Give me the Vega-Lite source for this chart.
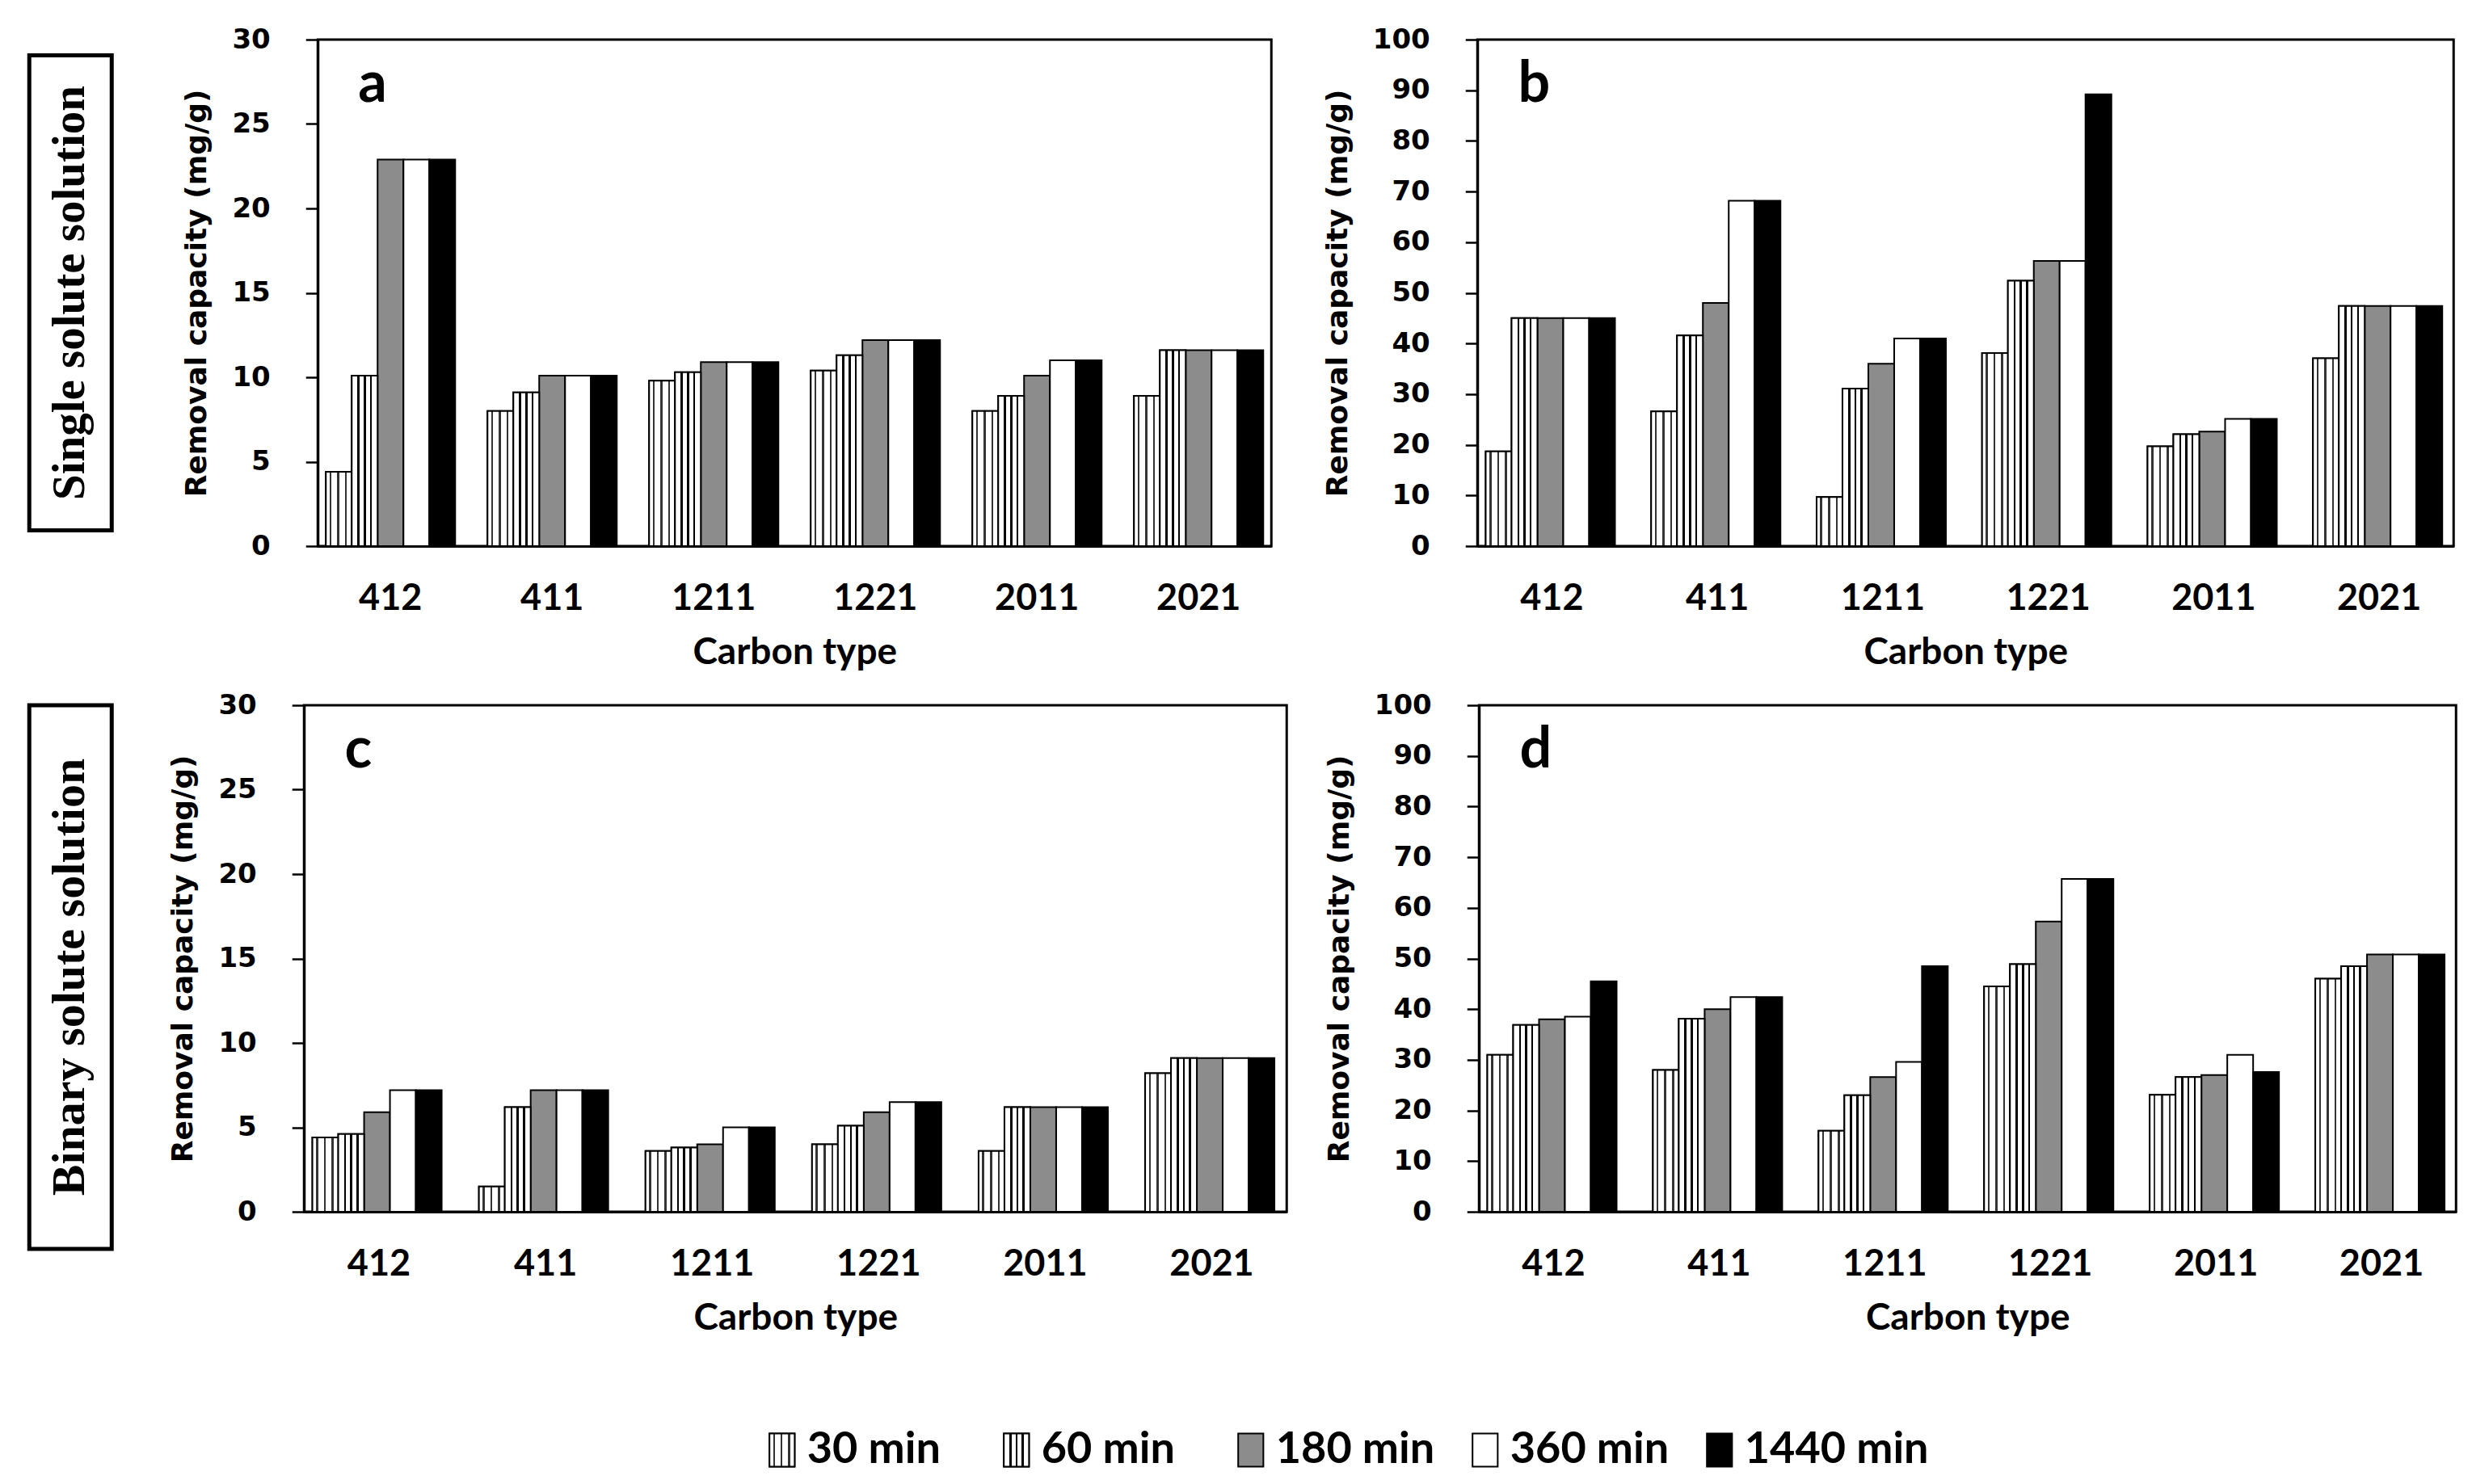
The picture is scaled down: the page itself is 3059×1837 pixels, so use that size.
{
"$schema": "https://vega.github.io/schema/vega-lite/v6.json",
"background": "white",
"padding": {"left": 33, "top": 30, "right": 0, "bottom": 0},
"datasets": {
"d": [
{"p":"a","c":"412","t":"30 min","v":4.4},{"p":"a","c":"412","t":"60 min","v":10.1},{"p":"a","c":"412","t":"180 min","v":22.9},{"p":"a","c":"412","t":"360 min","v":22.9},{"p":"a","c":"412","t":"1440 min","v":22.9},
{"p":"a","c":"411","t":"30 min","v":8.0},{"p":"a","c":"411","t":"60 min","v":9.1},{"p":"a","c":"411","t":"180 min","v":10.1},{"p":"a","c":"411","t":"360 min","v":10.1},{"p":"a","c":"411","t":"1440 min","v":10.1},
{"p":"a","c":"1211","t":"30 min","v":9.8},{"p":"a","c":"1211","t":"60 min","v":10.3},{"p":"a","c":"1211","t":"180 min","v":10.9},{"p":"a","c":"1211","t":"360 min","v":10.9},{"p":"a","c":"1211","t":"1440 min","v":10.9},
{"p":"a","c":"1221","t":"30 min","v":10.4},{"p":"a","c":"1221","t":"60 min","v":11.3},{"p":"a","c":"1221","t":"180 min","v":12.2},{"p":"a","c":"1221","t":"360 min","v":12.2},{"p":"a","c":"1221","t":"1440 min","v":12.2},
{"p":"a","c":"2011","t":"30 min","v":8.0},{"p":"a","c":"2011","t":"60 min","v":8.9},{"p":"a","c":"2011","t":"180 min","v":10.1},{"p":"a","c":"2011","t":"360 min","v":11.0},{"p":"a","c":"2011","t":"1440 min","v":11.0},
{"p":"a","c":"2021","t":"30 min","v":8.9},{"p":"a","c":"2021","t":"60 min","v":11.6},{"p":"a","c":"2021","t":"180 min","v":11.6},{"p":"a","c":"2021","t":"360 min","v":11.6},{"p":"a","c":"2021","t":"1440 min","v":11.6},
{"p":"b","c":"412","t":"30 min","v":18.7},{"p":"b","c":"412","t":"60 min","v":45.0},{"p":"b","c":"412","t":"180 min","v":45.0},{"p":"b","c":"412","t":"360 min","v":45.0},{"p":"b","c":"412","t":"1440 min","v":45.0},
{"p":"b","c":"411","t":"30 min","v":26.6},{"p":"b","c":"411","t":"60 min","v":41.6},{"p":"b","c":"411","t":"180 min","v":48.0},{"p":"b","c":"411","t":"360 min","v":68.2},{"p":"b","c":"411","t":"1440 min","v":68.2},
{"p":"b","c":"1211","t":"30 min","v":9.7},{"p":"b","c":"1211","t":"60 min","v":31.1},{"p":"b","c":"1211","t":"180 min","v":36.0},{"p":"b","c":"1211","t":"360 min","v":41.0},{"p":"b","c":"1211","t":"1440 min","v":41.0},
{"p":"b","c":"1221","t":"30 min","v":38.1},{"p":"b","c":"1221","t":"60 min","v":52.4},{"p":"b","c":"1221","t":"180 min","v":56.3},{"p":"b","c":"1221","t":"360 min","v":56.3},{"p":"b","c":"1221","t":"1440 min","v":89.2},
{"p":"b","c":"2011","t":"30 min","v":19.7},{"p":"b","c":"2011","t":"60 min","v":22.1},{"p":"b","c":"2011","t":"180 min","v":22.6},{"p":"b","c":"2011","t":"360 min","v":25.1},{"p":"b","c":"2011","t":"1440 min","v":25.1},
{"p":"b","c":"2021","t":"30 min","v":37.1},{"p":"b","c":"2021","t":"60 min","v":47.4},{"p":"b","c":"2021","t":"180 min","v":47.4},{"p":"b","c":"2021","t":"360 min","v":47.4},{"p":"b","c":"2021","t":"1440 min","v":47.4},
{"p":"c","c":"412","t":"30 min","v":4.4},{"p":"c","c":"412","t":"60 min","v":4.6},{"p":"c","c":"412","t":"180 min","v":5.9},{"p":"c","c":"412","t":"360 min","v":7.2},{"p":"c","c":"412","t":"1440 min","v":7.2},
{"p":"c","c":"411","t":"30 min","v":1.5},{"p":"c","c":"411","t":"60 min","v":6.2},{"p":"c","c":"411","t":"180 min","v":7.2},{"p":"c","c":"411","t":"360 min","v":7.2},{"p":"c","c":"411","t":"1440 min","v":7.2},
{"p":"c","c":"1211","t":"30 min","v":3.6},{"p":"c","c":"1211","t":"60 min","v":3.8},{"p":"c","c":"1211","t":"180 min","v":4.0},{"p":"c","c":"1211","t":"360 min","v":5.0},{"p":"c","c":"1211","t":"1440 min","v":5.0},
{"p":"c","c":"1221","t":"30 min","v":4.0},{"p":"c","c":"1221","t":"60 min","v":5.1},{"p":"c","c":"1221","t":"180 min","v":5.9},{"p":"c","c":"1221","t":"360 min","v":6.5},{"p":"c","c":"1221","t":"1440 min","v":6.5},
{"p":"c","c":"2011","t":"30 min","v":3.6},{"p":"c","c":"2011","t":"60 min","v":6.2},{"p":"c","c":"2011","t":"180 min","v":6.2},{"p":"c","c":"2011","t":"360 min","v":6.2},{"p":"c","c":"2011","t":"1440 min","v":6.2},
{"p":"c","c":"2021","t":"30 min","v":8.2},{"p":"c","c":"2021","t":"60 min","v":9.1},{"p":"c","c":"2021","t":"180 min","v":9.1},{"p":"c","c":"2021","t":"360 min","v":9.1},{"p":"c","c":"2021","t":"1440 min","v":9.1},
{"p":"d","c":"412","t":"30 min","v":31.0},{"p":"d","c":"412","t":"60 min","v":36.9},{"p":"d","c":"412","t":"180 min","v":38.0},{"p":"d","c":"412","t":"360 min","v":38.5},{"p":"d","c":"412","t":"1440 min","v":45.5},
{"p":"d","c":"411","t":"30 min","v":28.0},{"p":"d","c":"411","t":"60 min","v":38.1},{"p":"d","c":"411","t":"180 min","v":40.0},{"p":"d","c":"411","t":"360 min","v":42.4},{"p":"d","c":"411","t":"1440 min","v":42.4},
{"p":"d","c":"1211","t":"30 min","v":16.0},{"p":"d","c":"1211","t":"60 min","v":23.0},{"p":"d","c":"1211","t":"180 min","v":26.6},{"p":"d","c":"1211","t":"360 min","v":29.6},{"p":"d","c":"1211","t":"1440 min","v":48.5},
{"p":"d","c":"1221","t":"30 min","v":44.5},{"p":"d","c":"1221","t":"60 min","v":48.9},{"p":"d","c":"1221","t":"180 min","v":57.3},{"p":"d","c":"1221","t":"360 min","v":65.7},{"p":"d","c":"1221","t":"1440 min","v":65.7},
{"p":"d","c":"2011","t":"30 min","v":23.1},{"p":"d","c":"2011","t":"60 min","v":26.6},{"p":"d","c":"2011","t":"180 min","v":27.0},{"p":"d","c":"2011","t":"360 min","v":31.0},{"p":"d","c":"2011","t":"1440 min","v":27.6},
{"p":"d","c":"2021","t":"30 min","v":46.0},{"p":"d","c":"2021","t":"60 min","v":48.5},{"p":"d","c":"2021","t":"180 min","v":50.8},{"p":"d","c":"2021","t":"360 min","v":50.8},{"p":"d","c":"2021","t":"1440 min","v":50.8}
],
"leg": [{"t":"30 min"},{"t":"60 min"},{"t":"180 min"},{"t":"360 min"},{"t":"1440 min"}]
},
"center": true,
"vconcat": [
{
"spacing": 22,
"vconcat": [
{
"hconcat": [
{"width": 102, "height": 588, "view": {"stroke": "black", "strokeWidth": 5},
 "data": {"values": [{"label": "Single solute solution"}]},
 "mark": {"type": "text", "angle": 270, "align": "center", "baseline": "middle", "font": "Liberation Serif", "fontWeight": "bold", "fontSize": 57, "color": "black"},
 "encoding": {"text": {"field": "label", "type": "nominal"}}},
{"width": 1180, "height": 627,
 "data": {"name": "d"}, "transform": [{"filter": "datum.p == 'a'"}],
 "encoding": {
  "x": {"field": "c", "type": "nominal", "sort": ["412","411","1211","1221","2011","2021"], "scale": {"paddingInner": 0.2, "paddingOuter": 0.05}, "title": "Carbon type"},
  "y": {"field": "v", "type": "quantitative", "scale": {"domain": [0, 30], "nice": false}, "axis": {"values": [0,5,10,15,20,25,30]}, "title": "Removal capacity (mg/g)"}
 },
 "layer": [
  {"mark": {"type": "bar", "stroke": "black", "strokeWidth": 2}, "encoding": {"xOffset": {"field": "t", "type": "nominal", "scale": {"domain": ["30 min","60 min","180 min","360 min","1440 min"]}}, "color": {"field": "t", "type": "nominal", "scale": {"domain": ["30 min","60 min","180 min","360 min","1440 min"], "range": ["#ffffff","#ffffff","#8c8c8c","#ffffff","#000000"]}, "legend": null}}},
  {"transform": [{"filter": "datum.t == '30 min'"}], "mark": {"type": "bar", "stroke": "black", "strokeWidth": 2, "fill": {"gradient": "linear", "x1": 0, "y1": 0, "x2": 1, "y2": 0, "stops": [{"offset": 0, "color": "#ffffff"},{"offset": 0.14, "color": "#ffffff"},{"offset": 0.14, "color": "#333333"},{"offset": 0.22, "color": "#333333"},{"offset": 0.22, "color": "#ffffff"},{"offset": 0.44, "color": "#ffffff"},{"offset": 0.44, "color": "#333333"},{"offset": 0.52, "color": "#333333"},{"offset": 0.52, "color": "#ffffff"},{"offset": 0.74, "color": "#ffffff"},{"offset": 0.74, "color": "#333333"},{"offset": 0.82, "color": "#333333"},{"offset": 0.82, "color": "#ffffff"},{"offset": 1, "color": "#ffffff"}]}}, "encoding": {"xOffset": {"field": "t", "type": "nominal"}}},
  {"transform": [{"filter": "datum.t == '60 min'"}], "mark": {"type": "bar", "stroke": "black", "strokeWidth": 2, "fill": {"gradient": "linear", "x1": 0, "y1": 0, "x2": 1, "y2": 0, "stops": [{"offset": 0, "color": "#ffffff"},{"offset": 0.22, "color": "#ffffff"},{"offset": 0.22, "color": "#000000"},{"offset": 0.3, "color": "#000000"},{"offset": 0.3, "color": "#ffffff"},{"offset": 0.46, "color": "#ffffff"},{"offset": 0.46, "color": "#000000"},{"offset": 0.54, "color": "#000000"},{"offset": 0.54, "color": "#ffffff"},{"offset": 0.7, "color": "#ffffff"},{"offset": 0.7, "color": "#000000"},{"offset": 0.78, "color": "#000000"},{"offset": 0.78, "color": "#ffffff"},{"offset": 1, "color": "#ffffff"}]}}, "encoding": {"xOffset": {"field": "t", "type": "nominal"}}},
  {"transform": [{"filter": "datum.c == '412' && datum.t == '30 min'"}], "mark": {"type": "text", "align": "left", "baseline": "alphabetic", "dx": 40, "font": "Lato", "fontSize": 70, "fontWeight": "bold", "color": "black"}, "encoding": {"x": {"field": "c", "type": "nominal", "bandPosition": 0}, "y": {"datum": 26.3}, "text": {"value": "a"}}}
 ]},
{"width": 1208, "height": 627,
 "data": {"name": "d"}, "transform": [{"filter": "datum.p == 'b'"}],
 "encoding": {
  "x": {"field": "c", "type": "nominal", "sort": ["412","411","1211","1221","2011","2021"], "scale": {"paddingInner": 0.2, "paddingOuter": 0.05}, "title": "Carbon type"},
  "y": {"field": "v", "type": "quantitative", "scale": {"domain": [0, 100], "nice": false}, "axis": {"values": [0,10,20,30,40,50,60,70,80,90,100]}, "title": "Removal capacity (mg/g)"}
 },
 "layer": [
  {"mark": {"type": "bar", "stroke": "black", "strokeWidth": 2}, "encoding": {"xOffset": {"field": "t", "type": "nominal", "scale": {"domain": ["30 min","60 min","180 min","360 min","1440 min"]}}, "color": {"field": "t", "type": "nominal", "scale": {"domain": ["30 min","60 min","180 min","360 min","1440 min"], "range": ["#ffffff","#ffffff","#8c8c8c","#ffffff","#000000"]}, "legend": null}}},
  {"transform": [{"filter": "datum.t == '30 min'"}], "mark": {"type": "bar", "stroke": "black", "strokeWidth": 2, "fill": {"gradient": "linear", "x1": 0, "y1": 0, "x2": 1, "y2": 0, "stops": [{"offset": 0, "color": "#ffffff"},{"offset": 0.14, "color": "#ffffff"},{"offset": 0.14, "color": "#333333"},{"offset": 0.22, "color": "#333333"},{"offset": 0.22, "color": "#ffffff"},{"offset": 0.44, "color": "#ffffff"},{"offset": 0.44, "color": "#333333"},{"offset": 0.52, "color": "#333333"},{"offset": 0.52, "color": "#ffffff"},{"offset": 0.74, "color": "#ffffff"},{"offset": 0.74, "color": "#333333"},{"offset": 0.82, "color": "#333333"},{"offset": 0.82, "color": "#ffffff"},{"offset": 1, "color": "#ffffff"}]}}, "encoding": {"xOffset": {"field": "t", "type": "nominal"}}},
  {"transform": [{"filter": "datum.t == '60 min'"}], "mark": {"type": "bar", "stroke": "black", "strokeWidth": 2, "fill": {"gradient": "linear", "x1": 0, "y1": 0, "x2": 1, "y2": 0, "stops": [{"offset": 0, "color": "#ffffff"},{"offset": 0.22, "color": "#ffffff"},{"offset": 0.22, "color": "#000000"},{"offset": 0.3, "color": "#000000"},{"offset": 0.3, "color": "#ffffff"},{"offset": 0.46, "color": "#ffffff"},{"offset": 0.46, "color": "#000000"},{"offset": 0.54, "color": "#000000"},{"offset": 0.54, "color": "#ffffff"},{"offset": 0.7, "color": "#ffffff"},{"offset": 0.7, "color": "#000000"},{"offset": 0.78, "color": "#000000"},{"offset": 0.78, "color": "#ffffff"},{"offset": 1, "color": "#ffffff"}]}}, "encoding": {"xOffset": {"field": "t", "type": "nominal"}}},
  {"transform": [{"filter": "datum.c == '412' && datum.t == '30 min'"}], "mark": {"type": "text", "align": "left", "baseline": "alphabetic", "dx": 40, "font": "Lato", "fontSize": 70, "fontWeight": "bold", "color": "black"}, "encoding": {"x": {"field": "c", "type": "nominal", "bandPosition": 0}, "y": {"datum": 87.7}, "text": {"value": "b"}}}
 ]}
],
"spacing": 255, "bounds": "flush", "center": true
},
{
"hconcat": [
{"width": 102, "height": 673, "view": {"stroke": "black", "strokeWidth": 5},
 "data": {"values": [{"label": "Binary solute solution"}]},
 "mark": {"type": "text", "angle": 270, "align": "center", "baseline": "middle", "font": "Liberation Serif", "fontWeight": "bold", "fontSize": 58, "color": "black"},
 "encoding": {"text": {"field": "label", "type": "nominal"}}},
{"width": 1216, "height": 627,
 "data": {"name": "d"}, "transform": [{"filter": "datum.p == 'c'"}],
 "encoding": {
  "x": {"field": "c", "type": "nominal", "sort": ["412","411","1211","1221","2011","2021"], "scale": {"paddingInner": 0.2, "paddingOuter": 0.05}, "title": "Carbon type"},
  "y": {"field": "v", "type": "quantitative", "scale": {"domain": [0, 30], "nice": false}, "axis": {"values": [0,5,10,15,20,25,30]}, "title": "Removal capacity (mg/g)"}
 },
 "layer": [
  {"mark": {"type": "bar", "stroke": "black", "strokeWidth": 2}, "encoding": {"xOffset": {"field": "t", "type": "nominal", "scale": {"domain": ["30 min","60 min","180 min","360 min","1440 min"]}}, "color": {"field": "t", "type": "nominal", "scale": {"domain": ["30 min","60 min","180 min","360 min","1440 min"], "range": ["#ffffff","#ffffff","#8c8c8c","#ffffff","#000000"]}, "legend": null}}},
  {"transform": [{"filter": "datum.t == '30 min'"}], "mark": {"type": "bar", "stroke": "black", "strokeWidth": 2, "fill": {"gradient": "linear", "x1": 0, "y1": 0, "x2": 1, "y2": 0, "stops": [{"offset": 0, "color": "#ffffff"},{"offset": 0.14, "color": "#ffffff"},{"offset": 0.14, "color": "#333333"},{"offset": 0.22, "color": "#333333"},{"offset": 0.22, "color": "#ffffff"},{"offset": 0.44, "color": "#ffffff"},{"offset": 0.44, "color": "#333333"},{"offset": 0.52, "color": "#333333"},{"offset": 0.52, "color": "#ffffff"},{"offset": 0.74, "color": "#ffffff"},{"offset": 0.74, "color": "#333333"},{"offset": 0.82, "color": "#333333"},{"offset": 0.82, "color": "#ffffff"},{"offset": 1, "color": "#ffffff"}]}}, "encoding": {"xOffset": {"field": "t", "type": "nominal"}}},
  {"transform": [{"filter": "datum.t == '60 min'"}], "mark": {"type": "bar", "stroke": "black", "strokeWidth": 2, "fill": {"gradient": "linear", "x1": 0, "y1": 0, "x2": 1, "y2": 0, "stops": [{"offset": 0, "color": "#ffffff"},{"offset": 0.22, "color": "#ffffff"},{"offset": 0.22, "color": "#000000"},{"offset": 0.3, "color": "#000000"},{"offset": 0.3, "color": "#ffffff"},{"offset": 0.46, "color": "#ffffff"},{"offset": 0.46, "color": "#000000"},{"offset": 0.54, "color": "#000000"},{"offset": 0.54, "color": "#ffffff"},{"offset": 0.7, "color": "#ffffff"},{"offset": 0.7, "color": "#000000"},{"offset": 0.78, "color": "#000000"},{"offset": 0.78, "color": "#ffffff"},{"offset": 1, "color": "#ffffff"}]}}, "encoding": {"xOffset": {"field": "t", "type": "nominal"}}},
  {"transform": [{"filter": "datum.c == '412' && datum.t == '30 min'"}], "mark": {"type": "text", "align": "left", "baseline": "alphabetic", "dx": 40, "font": "Lato", "fontSize": 70, "fontWeight": "bold", "color": "black"}, "encoding": {"x": {"field": "c", "type": "nominal", "bandPosition": 0}, "y": {"datum": 26.3}, "text": {"value": "c"}}}
 ]},
{"width": 1209, "height": 627,
 "data": {"name": "d"}, "transform": [{"filter": "datum.p == 'd'"}],
 "encoding": {
  "x": {"field": "c", "type": "nominal", "sort": ["412","411","1211","1221","2011","2021"], "scale": {"paddingInner": 0.2, "paddingOuter": 0.05}, "title": "Carbon type"},
  "y": {"field": "v", "type": "quantitative", "scale": {"domain": [0, 100], "nice": false}, "axis": {"values": [0,10,20,30,40,50,60,70,80,90,100]}, "title": "Removal capacity (mg/g)"}
 },
 "layer": [
  {"mark": {"type": "bar", "stroke": "black", "strokeWidth": 2}, "encoding": {"xOffset": {"field": "t", "type": "nominal", "scale": {"domain": ["30 min","60 min","180 min","360 min","1440 min"]}}, "color": {"field": "t", "type": "nominal", "scale": {"domain": ["30 min","60 min","180 min","360 min","1440 min"], "range": ["#ffffff","#ffffff","#8c8c8c","#ffffff","#000000"]}, "legend": null}}},
  {"transform": [{"filter": "datum.t == '30 min'"}], "mark": {"type": "bar", "stroke": "black", "strokeWidth": 2, "fill": {"gradient": "linear", "x1": 0, "y1": 0, "x2": 1, "y2": 0, "stops": [{"offset": 0, "color": "#ffffff"},{"offset": 0.14, "color": "#ffffff"},{"offset": 0.14, "color": "#333333"},{"offset": 0.22, "color": "#333333"},{"offset": 0.22, "color": "#ffffff"},{"offset": 0.44, "color": "#ffffff"},{"offset": 0.44, "color": "#333333"},{"offset": 0.52, "color": "#333333"},{"offset": 0.52, "color": "#ffffff"},{"offset": 0.74, "color": "#ffffff"},{"offset": 0.74, "color": "#333333"},{"offset": 0.82, "color": "#333333"},{"offset": 0.82, "color": "#ffffff"},{"offset": 1, "color": "#ffffff"}]}}, "encoding": {"xOffset": {"field": "t", "type": "nominal"}}},
  {"transform": [{"filter": "datum.t == '60 min'"}], "mark": {"type": "bar", "stroke": "black", "strokeWidth": 2, "fill": {"gradient": "linear", "x1": 0, "y1": 0, "x2": 1, "y2": 0, "stops": [{"offset": 0, "color": "#ffffff"},{"offset": 0.22, "color": "#ffffff"},{"offset": 0.22, "color": "#000000"},{"offset": 0.3, "color": "#000000"},{"offset": 0.3, "color": "#ffffff"},{"offset": 0.46, "color": "#ffffff"},{"offset": 0.46, "color": "#000000"},{"offset": 0.54, "color": "#000000"},{"offset": 0.54, "color": "#ffffff"},{"offset": 0.7, "color": "#ffffff"},{"offset": 0.7, "color": "#000000"},{"offset": 0.78, "color": "#000000"},{"offset": 0.78, "color": "#ffffff"},{"offset": 1, "color": "#ffffff"}]}}, "encoding": {"xOffset": {"field": "t", "type": "nominal"}}},
  {"transform": [{"filter": "datum.c == '412' && datum.t == '30 min'"}], "mark": {"type": "text", "align": "left", "baseline": "alphabetic", "dx": 40, "font": "Lato", "fontSize": 70, "fontWeight": "bold", "color": "black"}, "encoding": {"x": {"field": "c", "type": "nominal", "bandPosition": 0}, "y": {"datum": 87.7}, "text": {"value": "d"}}}
 ]}
],
"spacing": 238, "bounds": "flush"
}
]
},
{
"width": 2030, "height": 60, "view": {"stroke": null},
"data": {"name": "leg"},
"encoding": {
 "x": {"field": "t", "type": "nominal", "sort": ["30 min","60 min","180 min","360 min","1440 min"], "bandPosition": 0, "scale": {"type": "band", "paddingInner": 0, "paddingOuter": 1, "align": 0.766}, "axis": null}
},
"layer": [
 {"mark": {"type": "point", "shape": "M-0.76,-1H0.76V1H-0.76Z", "size": 1681, "filled": true, "stroke": "black", "strokeWidth": 2, "opacity": 1}, "encoding": {"color": {"field": "t", "type": "nominal", "scale": {"domain": ["30 min","60 min","180 min","360 min","1440 min"], "range": ["#ffffff","#ffffff","#8c8c8c","#ffffff","#000000"]}, "legend": null}}},
 {"transform": [{"filter": "datum.t == '30 min'"}], "mark": {"type": "point", "shape": "M-0.76,-1H0.76V1H-0.76Z", "size": 1681, "filled": true, "stroke": "black", "strokeWidth": 2, "opacity": 1, "fill": {"gradient": "linear", "x1": 0, "y1": 0, "x2": 1, "y2": 0, "stops": [{"offset": 0, "color": "#ffffff"},{"offset": 0.14, "color": "#ffffff"},{"offset": 0.14, "color": "#333333"},{"offset": 0.22, "color": "#333333"},{"offset": 0.22, "color": "#ffffff"},{"offset": 0.44, "color": "#ffffff"},{"offset": 0.44, "color": "#333333"},{"offset": 0.52, "color": "#333333"},{"offset": 0.52, "color": "#ffffff"},{"offset": 0.74, "color": "#ffffff"},{"offset": 0.74, "color": "#333333"},{"offset": 0.82, "color": "#333333"},{"offset": 0.82, "color": "#ffffff"},{"offset": 1, "color": "#ffffff"}]}}},
 {"transform": [{"filter": "datum.t == '60 min'"}], "mark": {"type": "point", "shape": "M-0.76,-1H0.76V1H-0.76Z", "size": 1681, "filled": true, "stroke": "black", "strokeWidth": 2, "opacity": 1, "fill": {"gradient": "linear", "x1": 0, "y1": 0, "x2": 1, "y2": 0, "stops": [{"offset": 0, "color": "#ffffff"},{"offset": 0.22, "color": "#ffffff"},{"offset": 0.22, "color": "#000000"},{"offset": 0.3, "color": "#000000"},{"offset": 0.3, "color": "#ffffff"},{"offset": 0.46, "color": "#ffffff"},{"offset": 0.46, "color": "#000000"},{"offset": 0.54, "color": "#000000"},{"offset": 0.54, "color": "#ffffff"},{"offset": 0.7, "color": "#ffffff"},{"offset": 0.7, "color": "#000000"},{"offset": 0.78, "color": "#000000"},{"offset": 0.78, "color": "#ffffff"},{"offset": 1, "color": "#ffffff"}]}}},
 {"mark": {"type": "text", "align": "left", "baseline": "middle", "dx": 31, "font": "Lato", "fontWeight": "bold", "fontSize": 54, "color": "black"}, "encoding": {"text": {"field": "t", "type": "nominal"}}}
]
}
],
"spacing": 109,
"config": {
 "view": {"stroke": "black", "strokeWidth": 3},
 "axis": {"grid": false, "domainColor": "black", "tickColor": "black", "labelColor": "black", "titleColor": "black"},
 "axisY": {"labelFont": "DejaVu Sans", "labelFontWeight": "bold", "labelFontSize": 34, "titleFont": "DejaVu Sans", "titleFontWeight": "bold", "titleFontSize": 36, "labelPadding": 44, "tickSize": 15, "tickWidth": 2.5, "domainWidth": 3, "titlePadding": 24},
 "axisX": {"labelFont": "Lato", "labelFontWeight": "bold", "labelFontSize": 45, "labelPadding": 42, "labelAngle": 0, "ticks": false, "domainWidth": 3, "titleFont": "Lato", "titleFontWeight": "bold", "titleFontSize": 46, "titlePadding": 22}
}
}
